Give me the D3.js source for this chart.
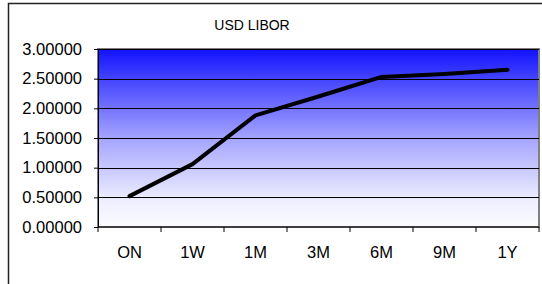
<!DOCTYPE html>
<html>
<head>
<meta charset="utf-8">
<script src="https://cdn.jsdelivr.net/npm/d3@7"></script>
<style>
body { margin:0; background:#fff; }
svg { display:block; font-family: Arial, "Liberation Sans", sans-serif; }
</style>
</head>
<body>
<svg id="chart" width="542" height="284"></svg>
<script>
// tenors + rates
var tenors = ["ON","1W","1M","3M","6M","9M","1Y"];
var rates = [0.52, 1.06, 1.88, 2.20, 2.53, 2.58, 2.65];
var yTicks = [0, 0.5, 1, 1.5, 2, 2.5, 3];
var title = "USD LIBOR";

var svg = d3.select("#chart");
var L = 98, T = 49, R = 539, B = 227;

// outer chart frame (runs off the right/bottom edge)
svg.append("rect").attr("x",8.5).attr("y",3.5).attr("width",560).attr("height",300)
    .attr("fill","#fff").attr("stroke","#222").attr("stroke-width",1.5);

var x = d3.scaleBand().domain(tenors).range([L,R]);
var y = d3.scaleLinear().domain([0,3]).range([B,T]);

var grad = svg.append("defs").append("linearGradient")
    .attr("id","bg").attr("x1",0).attr("y1",0).attr("x2",0).attr("y2",1);
grad.append("stop").attr("offset","0%").attr("stop-color","#1212ff");
grad.append("stop").attr("offset","50%").attr("stop-color","#a4a4ff");
grad.append("stop").attr("offset","85%").attr("stop-color","#eeeeff");
grad.append("stop").attr("offset","100%").attr("stop-color","#fbfbff");

svg.append("rect").attr("x",L).attr("y",T).attr("width",R-L).attr("height",B-T)
    .attr("fill","url(#bg)").attr("stroke","#808080").attr("stroke-width",2);

svg.append("g").selectAll("line").data(yTicks.slice(1)).enter().append("line")
    .attr("x1",L).attr("x2",R)
    .attr("y1",d=>Math.round(y(d))+0.5).attr("y2",d=>Math.round(y(d))+0.5)
    .attr("stroke","#000").attr("stroke-width",1);

var gy = svg.append("g").attr("transform","translate("+L+",0)")
    .call(d3.axisLeft(y).tickValues(yTicks).tickFormat(d3.format(".5f")).tickSize(4).tickPadding(12));
gy.select(".domain").attr("stroke","#000");
gy.selectAll("text").attr("font-size",16.5).attr("fill","#000").attr("font-family","Arial, 'Liberation Sans', sans-serif");

var xTickPos = tenors.map(t=>x(t)).concat([R]);
svg.append("g").selectAll("line").data(xTickPos).enter().append("line")
    .attr("x1",d=>d).attr("x2",d=>d).attr("y1",B).attr("y2",B+5)
    .attr("stroke","#000");
svg.append("line").attr("x1",L).attr("x2",R).attr("y1",B).attr("y2",B).attr("stroke","#000");

svg.append("g").selectAll("text").data(tenors).enter().append("text")
    .attr("x",d=>x(d)+x.bandwidth()/2).attr("y",258)
    .attr("text-anchor","middle").attr("font-size",16.5).text(d=>d);

var line = d3.line().x((d,i)=>x(tenors[i])+x.bandwidth()/2).y(d=>y(d));
svg.append("path").datum(rates).attr("d",line)
    .attr("fill","none").attr("stroke","#000").attr("stroke-width",4)
    .attr("stroke-linecap","round").attr("stroke-linejoin","round");

svg.append("text").attr("x",252).attr("y",30).attr("text-anchor","middle")
    .attr("font-size",14).text(title);
</script>
</body>
</html>
